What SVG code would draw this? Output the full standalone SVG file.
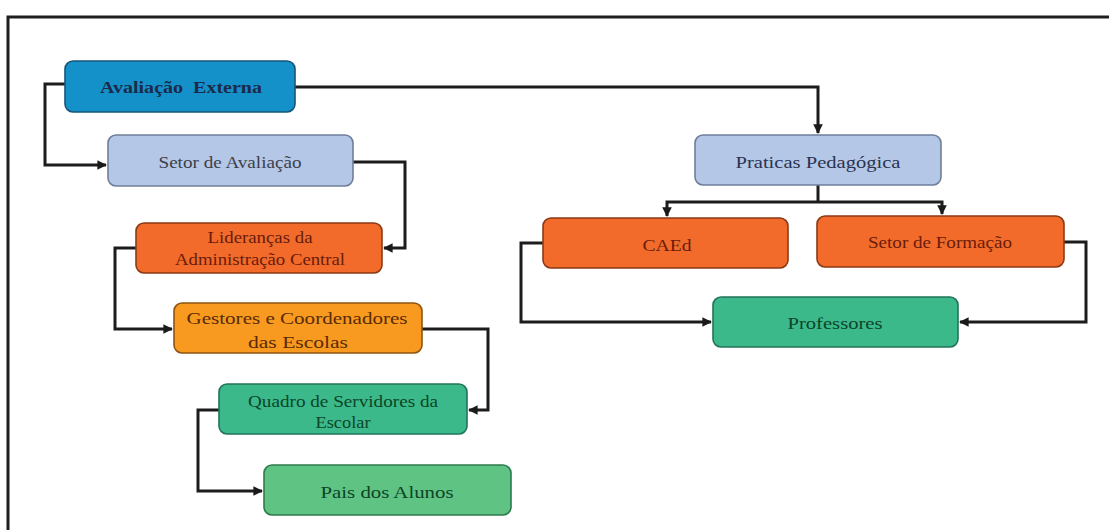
<svg xmlns="http://www.w3.org/2000/svg" width="1109" height="530" viewBox="0 0 1109 530">
  <defs>
    <marker id="arr" viewBox="0 0 10 10" refX="9" refY="5" markerWidth="3.2" markerHeight="3.2" orient="auto" markerUnits="strokeWidth">
      <path d="M0,0 L10,5 L0,10 z" fill="#1a1a1a"/>
    </marker>
    <style>
      .box { stroke-width: 1.6; }
      .t { font-family: "Liberation Serif", "Times New Roman", serif; font-size: 17px; text-anchor: middle; }
      .edge { fill: none; stroke: #1c1c1c; stroke-width: 3; marker-end: url(#arr); }
      .frame { fill: none; stroke: #1e1e1e; stroke-width: 3; }
    </style>
  </defs>
  <rect width="1109" height="530" fill="#ffffff"/>
  <!-- outer frame (open to the right and bottom) -->
  <path class="frame" d="M8,530 V17 H1109"/>

  <g id="connectors">
    <path class="edge" d="M65,84 H45 V165 H106"/>
    <path class="edge" d="M295,87 H818 V133"/>
    <path class="edge" d="M353,162 H405 V248 H384"/>
    <path class="edge" d="M136,248 H115 V329 H172"/>
    <path class="edge" d="M422,329 H488 V410 H469"/>
    <path class="edge" d="M219,410 H198 V491 H262"/>
    <path class="edge" style="marker-end:none" d="M818,185 V202"/>
    <path class="edge" d="M818,202 H667 V216"/>
    <path class="edge" d="M818,202 H942 V214"/>
    <path class="edge" d="M543,243 H521 V322 H711"/>
    <path class="edge" d="M1064,242 H1086 V322 H960"/>
  </g>

  <g id="avaliacao-externa">
    <rect class="box" x="65" y="61" width="230" height="51" rx="8" fill="#1591c9" stroke="#17557a"/>
    <text class="t" x="181" y="93" font-size="18" font-weight="bold" fill="#1b2a4a" textLength="162" lengthAdjust="spacingAndGlyphs">Avaliação&#160; Externa</text>
  </g>
  <g id="setor-avaliacao">
    <rect class="box" x="108" y="135" width="245" height="51" rx="8" fill="#b5c7e6" stroke="#6f7f99"/>
    <text class="t" x="230" y="168" fill="#3c3f4c" textLength="143" lengthAdjust="spacingAndGlyphs">Setor de Avaliação</text>
  </g>
  <g id="liderancas">
    <rect class="box" x="136" y="223" width="246" height="50" rx="8" fill="#f26b2a" stroke="#8a3a14"/>
    <text class="t" x="260" y="243" fill="#6a1c0c" textLength="105" lengthAdjust="spacingAndGlyphs">Lideranças da</text>
    <text class="t" x="260" y="265" fill="#6a1c0c" textLength="170" lengthAdjust="spacingAndGlyphs">Administração Central</text>
  </g>
  <g id="gestores">
    <rect class="box" x="174" y="303" width="248" height="50" rx="8" fill="#f79a1f" stroke="#8e5410"/>
    <text class="t" x="297" y="324" font-size="20" fill="#5a2a06" textLength="221" lengthAdjust="spacingAndGlyphs">Gestores e Coordenadores</text>
    <text class="t" x="298" y="348" font-size="20" fill="#5a2a06" textLength="100" lengthAdjust="spacingAndGlyphs">das Escolas</text>
  </g>
  <g id="quadro-servidores">
    <rect class="box" x="219" y="384" width="248" height="50" rx="8" fill="#3bb98b" stroke="#22745a"/>
    <text class="t" x="343" y="407" fill="#0c4527" textLength="190" lengthAdjust="spacingAndGlyphs">Quadro de Servidores da</text>
    <text class="t" x="343" y="428" fill="#0c4527" textLength="55" lengthAdjust="spacingAndGlyphs">Escolar</text>
  </g>
  <g id="pais-alunos">
    <rect class="box" x="264" y="465" width="247" height="50" rx="8" fill="#5fc383" stroke="#2f7a4e"/>
    <text class="t" x="387" y="498" font-size="20" fill="#0c4527" textLength="133" lengthAdjust="spacingAndGlyphs">Pais dos Alunos</text>
  </g>
  <g id="praticas-pedagogica">
    <rect class="box" x="695" y="135" width="246" height="50" rx="8" fill="#b5c7e6" stroke="#6f7f99"/>
    <text class="t" x="818" y="168" font-size="18" fill="#2a3350" textLength="165" lengthAdjust="spacingAndGlyphs">Praticas Pedagógica</text>
  </g>
  <g id="caed">
    <rect class="box" x="543" y="218" width="245" height="50" rx="8" fill="#f26b2a" stroke="#8a3a14"/>
    <text class="t" x="667" y="251" font-size="18" fill="#6a1c0c" textLength="49" lengthAdjust="spacingAndGlyphs">CAEd</text>
  </g>
  <g id="setor-formacao">
    <rect class="box" x="817" y="216" width="247" height="51" rx="8" fill="#f26b2a" stroke="#8a3a14"/>
    <text class="t" x="940" y="248" fill="#6a1c0c" textLength="144" lengthAdjust="spacingAndGlyphs">Setor de Formação</text>
  </g>
  <g id="professores">
    <rect class="box" x="713" y="297" width="245" height="50" rx="8" fill="#3bb98b" stroke="#22745a"/>
    <text class="t" x="835" y="329" font-size="19" fill="#0c4527" textLength="95" lengthAdjust="spacingAndGlyphs">Professores</text>
  </g>
</svg>
